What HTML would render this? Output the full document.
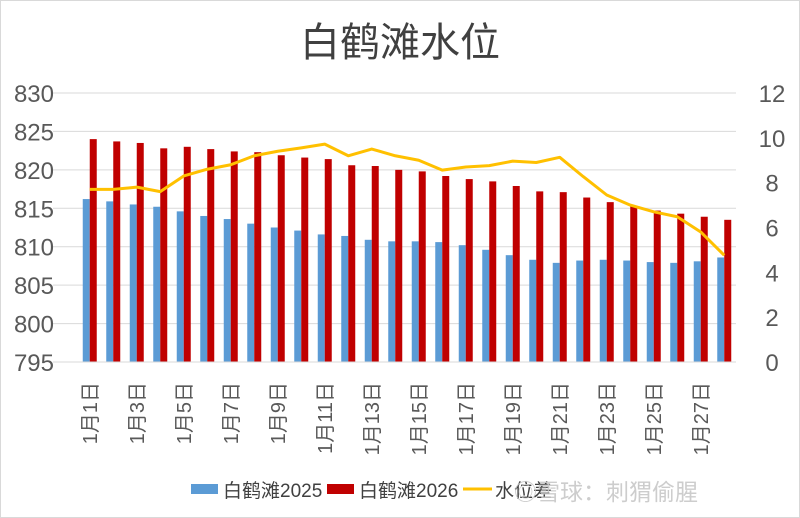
<!DOCTYPE html>
<html><head><meta charset="utf-8"><style>
body{margin:0;background:#fff;}
svg{display:block;font-family:"Liberation Sans","Noto Sans CJK SC",sans-serif;}
</style></head><body>
<svg id="c" width="800" height="518" viewBox="0 0 800 518">
<rect x="0.5" y="0.5" width="799" height="517" fill="#fff" stroke="#d9d9d9"/>
<text x="400" y="56" text-anchor="middle" font-size="40" fill="#404040">白鹤滩水位</text>
<g id="grid"></g><g id="bars"></g><g id="line"></g><g id="axes"></g>
<g font-size="19" fill="#404040">
<rect x="191" y="484" width="27" height="10" fill="#5b9bd5"/>
<text x="223" y="497">白鹤滩2025</text>
<rect x="327" y="484" width="27" height="10" fill="#c00000"/>
<text x="359" y="497">白鹤滩2026</text>
<line x1="463" y1="489" x2="492" y2="489" stroke="#ffc000" stroke-width="3"/>
<text x="495" y="497">水位差</text>
</g>
<text x="514" y="500" font-size="23" fill="#c8c8c8" opacity="0.9">◎雪球：刺猬偷腥</text>
</svg>
<script>
const categories=[];for(let d=1;d<=28;d++)categories.push('1月'+d+'日');
const level2025=[816.2,815.9,815.5,815.2,814.6,814.0,813.6,813.0,812.5,812.1,811.6,811.4,810.9,810.7,810.7,810.6,810.2,809.6,808.9,808.3,807.9,808.2,808.3,808.2,808.0,807.9,808.1,808.6];
const level2026=[824.0,823.7,823.5,822.8,823.0,822.7,822.4,822.3,821.9,821.6,821.4,820.6,820.5,820.0,819.8,819.2,818.8,818.5,817.9,817.2,817.1,816.4,815.8,815.3,814.7,814.3,813.9,813.5];
const diff=[7.7,7.7,7.8,7.6,8.3,8.6,8.8,9.2,9.4,9.55,9.72,9.2,9.5,9.2,9.0,8.56,8.7,8.76,8.96,8.9,9.13,8.27,7.45,7.0,6.7,6.48,5.8,4.76];
const leftTicks=[795,800,805,810,815,820,825,830];
const rightTicks=[0,2,4,6,8,10,12];
const X0=78,X1=736,Y0=362,Y1=93,NS='http://www.w3.org/2000/svg';
const cw=(X1-X0)/categories.length;
const xc=i=>X0+cw*(i+0.5);
const yL=v=>Y0-(v-795)/35*(Y0-Y1);
const yR=v=>Y0-v/12*(Y0-Y1);
function mk(t,a,p){const e=document.createElementNS(NS,t);for(const k in a)e.setAttribute(k,a[k]);p.appendChild(e);return e;}
const G=document.getElementById('grid'),B=document.getElementById('bars'),L=document.getElementById('line'),A=document.getElementById('axes');
leftTicks.forEach((v)=>{
 const g=mk('line',{x1:X0-25,x2:X1,y1:yL(v),y2:yL(v),stroke:'#d9d9d9','stroke-width':1},G);
 
 
 const t=mk('text',{x:54,y:yL(v)+9,'text-anchor':'end','font-size':24,fill:'#595959'},A);t.textContent=v;
 
 
});
rightTicks.forEach((v)=>{
 const t=mk('text',{x:772,y:yR(v)+9,'text-anchor':'middle','font-size':24,fill:'#595959'},A);t.textContent=v;
 
 
});
const bw=7;
categories.forEach((c,i)=>{
 const b1=mk('rect',{x:xc(i)-bw,y:yL(level2025[i]),width:bw,height:Y0-yL(level2025[i]),fill:'#5b9bd5'},B);
 
 
 const b2=mk('rect',{x:xc(i),y:yL(level2026[i]),width:bw,height:Y0-yL(level2026[i]),fill:'#c00000'},B);
 
 
 if(i%2===0){
  const t=mk('text',{transform:`translate(${xc(i)+7},382) rotate(-90)`,'text-anchor':'end','font-size':20,fill:'#595959'},A);t.textContent=c;
  
  
 }
});
const ax=mk('line',{x1:X0,x2:X1,y1:Y0,y2:Y0,stroke:'#d9d9d9'},A);


const pl=mk('polyline',{points:diff.map((v,i)=>xc(i)+','+yR(v)).join(' '),fill:'none',stroke:'#ffc000','stroke-width':3,'stroke-linejoin':'round'},L);


</script>
</body></html>
